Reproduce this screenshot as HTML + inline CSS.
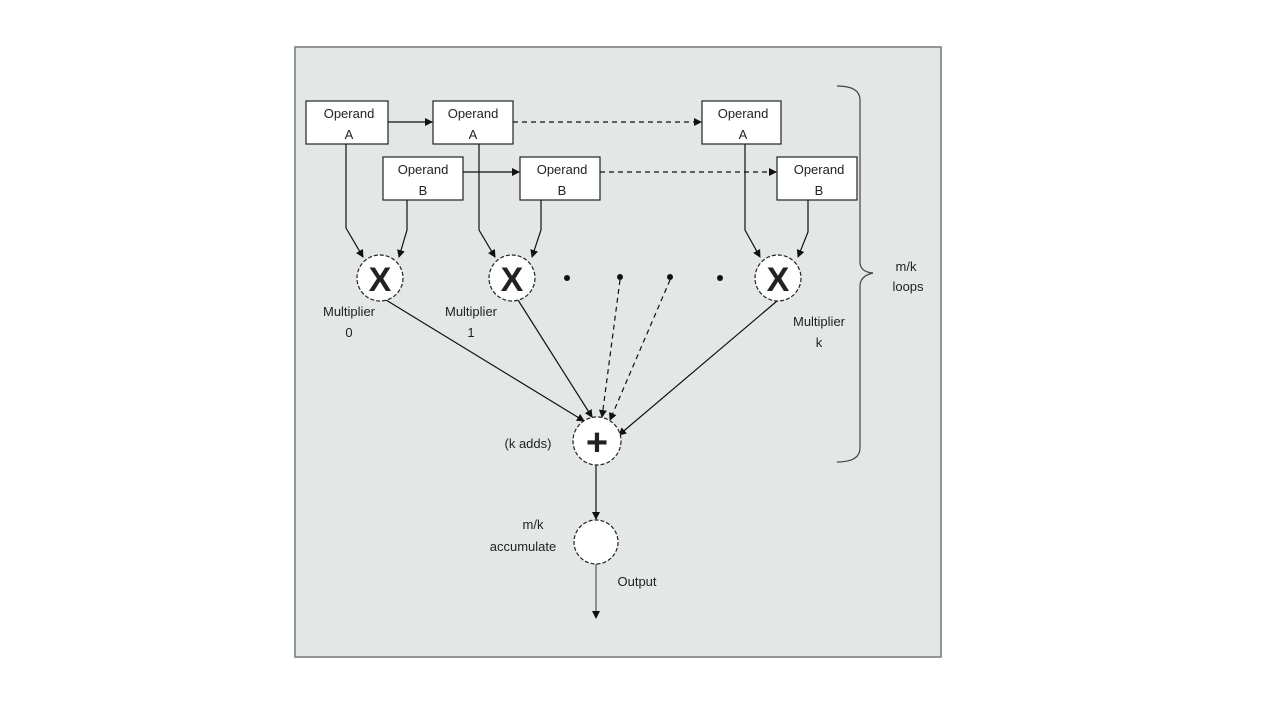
<!DOCTYPE html>
<html><head><style>
html,body{margin:0;padding:0;background:#fff;}
svg{display:block;}
text{font-family:"Liberation Sans",sans-serif;fill:#222;}
</style></head><body>
<svg width="1280" height="722" viewBox="0 0 1280 722" xmlns="http://www.w3.org/2000/svg">
<defs>
<marker id="ah" markerWidth="8" markerHeight="8" refX="7" refY="4" orient="auto" markerUnits="userSpaceOnUse">
<path d="M0,0 L8,4 L0,8 z" fill="#111"/></marker>
</defs>
<rect x="295" y="47" width="646" height="610" fill="#e3e8e6" stroke="#777" stroke-width="1.5"/>
<g stroke="#222" stroke-width="1.2" fill="#fff">
<rect x="306" y="101" width="82" height="43"/>
<rect x="433" y="101" width="80" height="43"/>
<rect x="702" y="101" width="79" height="43"/>
<rect x="383" y="157" width="80" height="43"/>
<rect x="520" y="157" width="80" height="43"/>
<rect x="777" y="157" width="80" height="43"/>
</g>
<g font-size="13" text-anchor="middle">
<text x="349" y="118">Operand</text><text x="349" y="139">A</text>
<text x="473" y="118">Operand</text><text x="473" y="139">A</text>
<text x="743" y="118">Operand</text><text x="743" y="139">A</text>
<text x="423" y="174">Operand</text><text x="423" y="195">B</text>
<text x="562" y="174">Operand</text><text x="562" y="195">B</text>
<text x="819" y="174">Operand</text><text x="819" y="195">B</text>
</g>
<g stroke="#111" stroke-width="1.2" fill="none">
<line x1="388" y1="122" x2="432" y2="122" marker-end="url(#ah)"/>
<line x1="513" y1="122" x2="701" y2="122" stroke-dasharray="5,4" marker-end="url(#ah)"/>
<line x1="463" y1="172" x2="519" y2="172" marker-end="url(#ah)"/>
<line x1="600" y1="172" x2="776" y2="172" stroke-dasharray="5,4" marker-end="url(#ah)"/>
<path d="M346,144 V228 L363,257" marker-end="url(#ah)"/>
<path d="M407,200 V230 L399,257" marker-end="url(#ah)"/>
<path d="M479,144 V230 L495,257" marker-end="url(#ah)"/>
<path d="M541,200 V230 L532,257" marker-end="url(#ah)"/>
<path d="M745,144 V230 L760,257" marker-end="url(#ah)"/>
<path d="M808,200 V232 L798,257" marker-end="url(#ah)"/>
<line x1="386" y1="300" x2="584" y2="421" marker-end="url(#ah)"/>
<line x1="518" y1="300" x2="592" y2="417" marker-end="url(#ah)"/>
<line x1="620" y1="280" x2="602" y2="417" stroke-dasharray="5,4" marker-end="url(#ah)"/>
<line x1="670" y1="280" x2="610" y2="420" stroke-dasharray="5,4" marker-end="url(#ah)"/>
<line x1="777" y1="301" x2="619" y2="435" marker-end="url(#ah)"/>
<line x1="596" y1="465" x2="596" y2="519" marker-end="url(#ah)"/>
<line x1="596" y1="564" x2="596" y2="618" stroke="#555" marker-end="url(#ah)"/>
<path d="M837,86 Q860,86 860,100 V262 Q860,272 873,273 Q860,276 860,286 V448 Q860,462 837,462" stroke="#444"/>
</g>
<g stroke="#222" stroke-width="1.2" stroke-dasharray="4,2" fill="#fff">
<circle cx="380" cy="278" r="23"/>
<circle cx="512" cy="278" r="23"/>
<circle cx="778" cy="278" r="23"/>
<circle cx="597" cy="441" r="24"/>
<circle cx="596" cy="542" r="22"/>
</g>
<g fill="#111">
<circle cx="567" cy="278" r="3"/><circle cx="620" cy="277" r="3"/>
<circle cx="670" cy="277" r="3"/><circle cx="720" cy="278" r="3"/>
</g>
<g font-size="34" text-anchor="middle" font-weight="bold">
<text x="380" y="291">X</text><text x="512" y="291">X</text><text x="778" y="291">X</text>
<text x="597" y="455" font-size="38">+</text>
</g>
<g font-size="13" text-anchor="middle">
<text x="349" y="316">Multiplier</text><text x="349" y="337">0</text>
<text x="471" y="316">Multiplier</text><text x="471" y="337">1</text>
<text x="819" y="326">Multiplier</text><text x="819" y="347">k</text>
<text x="528" y="448">(k adds)</text>
<text x="533" y="529">m/k</text><text x="523" y="551">accumulate</text>
<text x="637" y="586">Output</text>
<text x="906" y="271">m/k</text><text x="908" y="291">loops</text>
</g>
</svg>
</body></html>
